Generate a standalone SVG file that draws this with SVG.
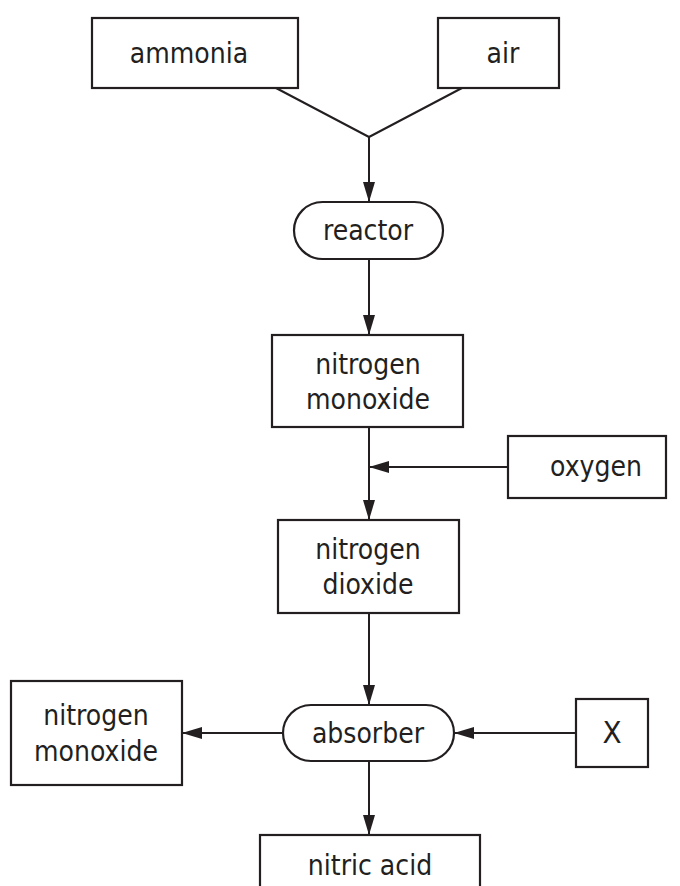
<svg xmlns="http://www.w3.org/2000/svg" width="680" height="886" viewBox="0 0 680 886">
<style>
.box{fill:#fff;stroke:#231f20;stroke-width:2.2}
.t{font-family:"DejaVu Sans Condensed","DejaVu Sans",sans-serif;font-size:28px;fill:#231f20;text-anchor:middle}
.ln{stroke:#231f20;stroke-width:2;fill:none}
</style>
<defs>
<marker id="ah" markerUnits="userSpaceOnUse" markerWidth="20" markerHeight="12" refX="20" refY="6" orient="auto">
<path d="M0,0 L20,6 L0,12 z" fill="#231f20"/>
</marker>
</defs>
<rect width="680" height="886" fill="#fff"/>
<g id="connectors">
<polyline class="ln" points="276,88 369,137 462,88"/>
<line class="ln" x1="369" y1="137" x2="369" y2="202" marker-end="url(#ah)"/>
<line class="ln" x1="369" y1="259" x2="369" y2="335" marker-end="url(#ah)"/>
<line class="ln" x1="369" y1="427" x2="369" y2="520" marker-end="url(#ah)"/>
<line class="ln" x1="508" y1="467" x2="369" y2="467" marker-end="url(#ah)"/>
<line class="ln" x1="369" y1="613" x2="369" y2="705" marker-end="url(#ah)"/>
<line class="ln" x1="283" y1="733" x2="182" y2="733" marker-end="url(#ah)"/>
<line class="ln" x1="576" y1="733" x2="454" y2="733" marker-end="url(#ah)"/>
<line class="ln" x1="369" y1="761" x2="369" y2="835" marker-end="url(#ah)"/>
</g>
<g id="ammonia"><rect class="box" x="92" y="18" width="206" height="70"/><text class="t" x="189" y="63">ammonia</text></g>
<g id="air"><rect class="box" x="438" y="18" width="121" height="70"/><text class="t" x="503" y="63">air</text></g>
<g id="reactor"><rect class="box" x="294" y="202" width="149" height="57" rx="28.5"/><text class="t" x="368" y="240">reactor</text></g>
<g id="nitrogen-monoxide"><rect class="box" x="272" y="335" width="191" height="92"/><text class="t" x="368" y="374">nitrogen</text><text class="t" x="368" y="409">monoxide</text></g>
<g id="oxygen"><rect class="box" x="508" y="436" width="158" height="62"/><text class="t" x="596" y="476">oxygen</text></g>
<g id="nitrogen-dioxide"><rect class="box" x="278" y="520" width="181" height="93"/><text class="t" x="368" y="559">nitrogen</text><text class="t" x="368" y="594">dioxide</text></g>
<g id="absorber"><rect class="box" x="283" y="705" width="171" height="56" rx="28"/><text class="t" x="368" y="743">absorber</text></g>
<g id="nitrogen-monoxide-out"><rect class="box" x="11" y="681" width="171" height="104"/><text class="t" x="96" y="725">nitrogen</text><text class="t" x="96" y="761">monoxide</text></g>
<g id="x"><rect class="box" x="576" y="699" width="72" height="68"/><text class="t" x="612" y="743" style="font-size:31px">X</text></g>
<g id="nitric-acid"><rect class="box" x="260" y="835" width="220" height="60"/><text class="t" x="370" y="875">nitric acid</text></g>
</svg>
